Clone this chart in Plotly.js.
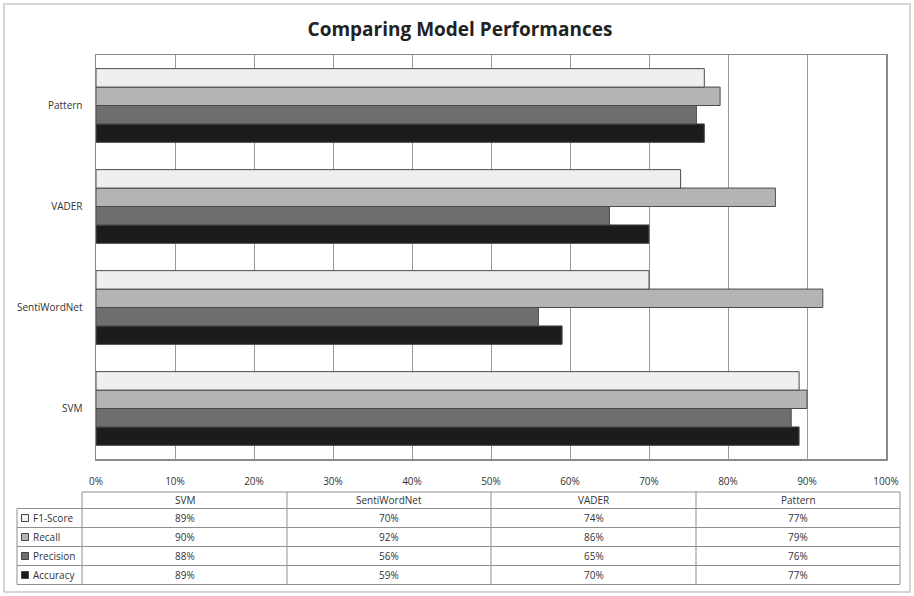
<!DOCTYPE html>
<html>
<head>
<meta charset="utf-8">
<script src="https://cdn.plot.ly/plotly-3.0.1.min.js"></script>
<style>
html,body{margin:0;padding:0;background:#fff;}
#chart{width:914px;height:596px;}
</style>
</head>
<body>
<div id="chart"></div>
<script>
// ---- data ----
const models = ['SVM', 'SentiWordNet', 'VADER', 'Pattern'];
const seriesNames = ['F1-Score', 'Recall', 'Precision', 'Accuracy'];
const f1Score = [89, 70, 74, 77];
const recall = [90, 92, 86, 79];
const precision = [88, 56, 65, 76];
const accuracy = [89, 59, 70, 77];
const xTickVals = [0, 10, 20, 30, 40, 50, 60, 70, 80, 90, 100];
const xTickText = ['0%', '10%', '20%', '30%', '40%', '50%', '60%', '70%', '80%', '90%', '100%'];

const seriesValues = [f1Score, recall, precision, accuracy];
const seriesColors = ['#efefef', '#b4b4b4', '#6e6e6e', '#1c1c1c'];

// ---- layout geometry (pixels) ----
const W = 914, H = 596;
const L = 96, R = 28, T = 55, B = 137;
const PW = W - L - R, PH = H - T - B;
const px = x => (x - L) / PW;
const py = y => (H - B - y) / PH;

const FONT = '"Open Sans", "DejaVu Sans", sans-serif';

// traces: bottom bar first (Accuracy) to top (F1-Score)
const traces = [];
for (let i = seriesNames.length - 1; i >= 0; i--) {
  traces.push({
    type: 'bar',
    orientation: 'h',
    name: seriesNames[i],
    y: models,
    x: seriesValues[i],
    marker: {color: seriesColors[i], line: {color: '#4a4a4a', width: 1}},
    hoverinfo: 'x+y+name'
  });
}

// ---- table below the chart ----
const colX = [17, 82, 287, 491, 696, 900];
const rowY = [492, 508.5, 527.5, 546.5, 565.5, 584.5];
const lineColor = '#8f8f8f';
const shapes = [];
const annotations = [];

// outer figure border
shapes.push({type: 'rect', xref: 'paper', yref: 'paper',
  x0: px(4), x1: px(910), y0: py(4), y1: py(592),
  line: {color: '#c8c8c8', width: 1.5}, fillcolor: 'rgba(0,0,0,0)', layer: 'below'});

// horizontal table lines
for (let r = 0; r < rowY.length; r++) {
  const xs = r === 0 ? colX[1] : colX[0];
  shapes.push({type: 'line', xref: 'paper', yref: 'paper',
    x0: px(xs), x1: px(colX[colX.length - 1]), y0: py(rowY[r]), y1: py(rowY[r]),
    line: {color: lineColor, width: 1}});
}
// vertical table lines
for (let c = 0; c < colX.length; c++) {
  const ys = c === 0 ? rowY[1] : rowY[0];
  shapes.push({type: 'line', xref: 'paper', yref: 'paper',
    x0: px(colX[c]), x1: px(colX[c]), y0: py(ys), y1: py(rowY[rowY.length - 1]),
    line: {color: lineColor, width: 1}});
}

const tfont = {family: FONT, size: 10, color: '#333'};
// header
models.forEach((m, j) => {
  annotations.push({xref: 'paper', yref: 'paper', showarrow: false,
    x: px((colX[j + 1] + colX[j + 2]) / 2), y: py((rowY[0] + rowY[1]) / 2),
    xanchor: 'center', yanchor: 'middle', text: m, font: tfont});
});
// rows
seriesNames.forEach((s, i) => {
  const yc = (rowY[i + 1] + rowY[i + 2]) / 2;
  // legend key
  shapes.push({type: 'rect', xref: 'paper', yref: 'paper',
    x0: px(21.5), x1: px(28.5), y0: py(yc - 3.5), y1: py(yc + 3.5),
    fillcolor: seriesColors[i], line: {color: '#444', width: 1}});
  annotations.push({xref: 'paper', yref: 'paper', showarrow: false,
    x: px(31), y: py(yc), xanchor: 'left', yanchor: 'middle', text: s, font: tfont});
  seriesValues[i].forEach((v, j) => {
    annotations.push({xref: 'paper', yref: 'paper', showarrow: false,
      x: px((colX[j + 1] + colX[j + 2]) / 2), y: py(yc),
      xanchor: 'center', yanchor: 'middle', text: v + '%', font: tfont});
  });
});

const layout = {
  width: W, height: H,
  margin: {l: L, r: R, t: T, b: B, pad: 0},
  paper_bgcolor: '#fff', plot_bgcolor: '#fff',
  title: {text: '<b>Comparing Model Performances</b>', x: 460 / W, xref: 'container',
    xanchor: 'center', y: 1 - 29 / H, yanchor: 'middle', yref: 'container',
    font: {family: FONT, size: 19, color: '#222'}},
  barmode: 'group',
  bargap: 0.27,
  bargroupgap: 0,
  showlegend: false,
  xaxis: {range: [0, 100], tickmode: 'array', tickvals: xTickVals, ticktext: xTickText,
    showgrid: true, gridcolor: '#9a9a9a', gridwidth: 1,
    showline: true, linecolor: '#8a8a8a', linewidth: 1.5, mirror: true,
    zeroline: false, ticks: '', ticklabelstandoff: 12,
    tickfont: {family: FONT, size: 10, color: '#333'}},
  yaxis: {categoryorder: 'array', categoryarray: models,
    showgrid: false, showline: true, linecolor: '#8a8a8a', linewidth: 1.5, mirror: true,
    ticks: '', ticklabelstandoff: 10,
    tickfont: {family: FONT, size: 10, color: '#333'}},
  shapes: shapes,
  annotations: annotations
};

Plotly.newPlot('chart', traces, layout, {displayModeBar: false, staticPlot: true});
</script>
</body>
</html>
